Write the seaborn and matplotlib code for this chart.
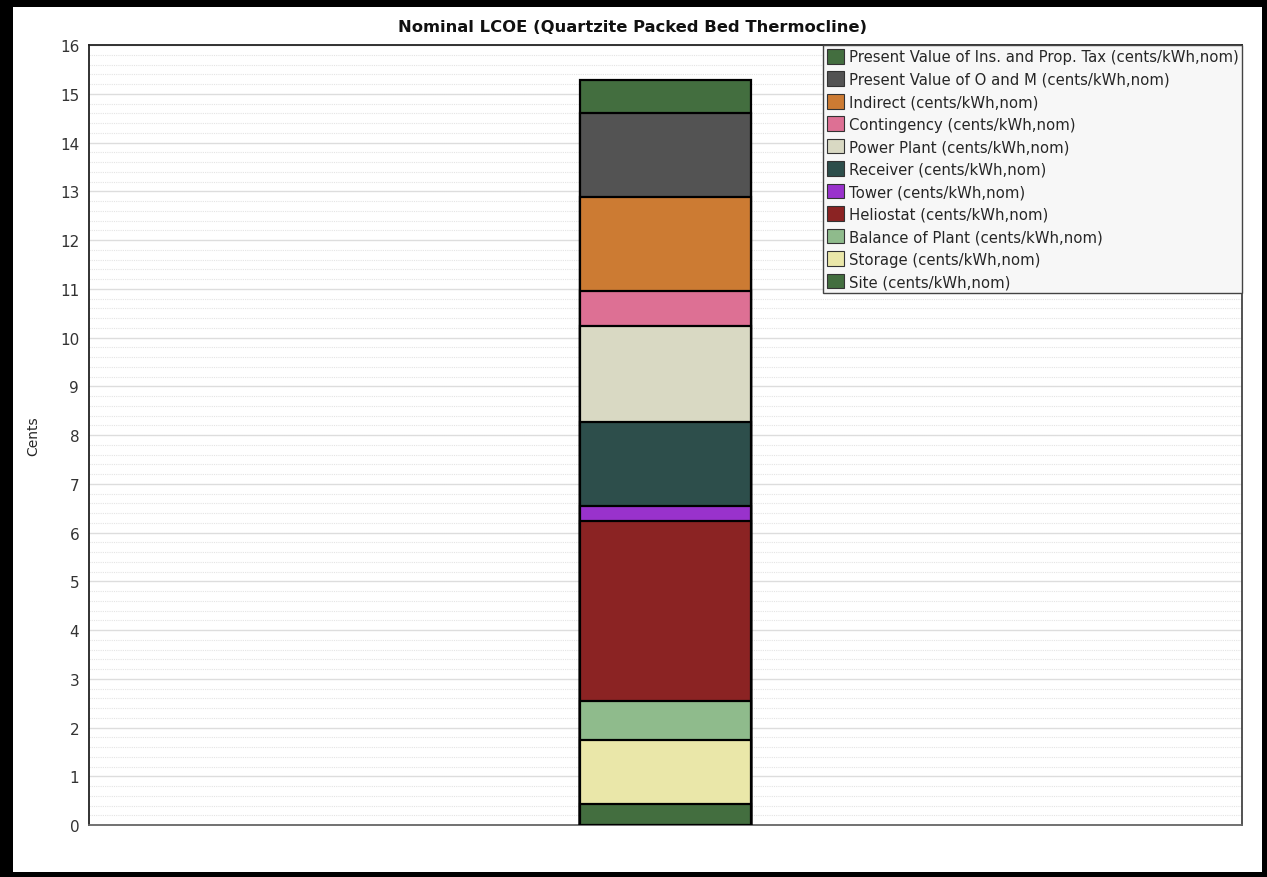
import numpy as np
import pandas as pd
import matplotlib.pyplot as plt
import seaborn as sns
from matplotlib.patches import Rectangle
from matplotlib.ticker import MultipleLocator

# segment values, bottom to top (cents/kWh, nominal)
categories = [
    "Site",
    "Storage",
    "Balance of Plant",
    "Heliostat",
    "Tower",
    "Receiver",
    "Power Plant",
    "Contingency",
    "Indirect",
    "Present Value of O and M",
    "Present Value of Ins. and Prop. Tax",
]
values = [0.43, 1.31, 0.81, 3.69, 0.30, 1.73, 1.96, 0.72, 1.94, 1.71, 0.68]
colors = [
    "#436e3f",
    "#eae7a9",
    "#8fbb8c",
    "#8b2323",
    "#9932cc",
    "#2d4e4b",
    "#d9d9c3",
    "#dd7094",
    "#cc7b33",
    "#535353",
    "#436e3f",
]

sns.set_style("white")
plt.rcParams["font.family"] = ["DejaVu Sans"]

df = pd.DataFrame({"part": categories, "value": values, "color": colors})
df["top"] = df["value"].cumsum()
df["x"] = ""

fig = plt.figure(figsize=(12.67, 8.78), dpi=100)
ax = fig.add_axes([0.0702, 0.0592, 0.9101, 0.8884])

# draw tallest cumulative bar first, then each lower one on top of it
for i in range(len(df) - 1, -1, -1):
    row = df.iloc[[i]]
    sns.barplot(data=row, x="x", y="top", color=row["color"].iloc[0],
                width=0.148, edgecolor="black", linewidth=1.6,
                saturation=1, ax=ax, zorder=3)

ax.set_xlim(-0.5, 0.5)
ax.set_ylim(0, 16)
ax.yaxis.set_major_locator(MultipleLocator(1))
ax.yaxis.set_minor_locator(MultipleLocator(0.2))
ax.grid(which="major", axis="y", color="#dddddd", linewidth=1.0, zorder=0)
ax.grid(which="minor", axis="y", color="#e4e4e4", linewidth=0.8,
        linestyle=(0, (1, 1)), zorder=0)
ax.set_axisbelow(True)
ax.set_xticks([])
ax.set_xlabel("")
ax.set_ylabel("Cents", fontsize=10, labelpad=14)
ax.tick_params(axis="y", which="major", direction="inout", length=7,
               width=1, labelsize=11, colors="#333333")
ax.tick_params(axis="y", which="minor", direction="in", length=3, width=0.8)
for side, c in [("left", "#222222"), ("bottom", "#666666"),
                ("top", "#222222"), ("right", "#444444")]:
    ax.spines[side].set_visible(True)
    ax.spines[side].set_color(c)
    ax.spines[side].set_linewidth(1.3)

fig.text(632 / 1267, 1 - 27 / 878,
         "Nominal LCOE (Quartzite Packed Bed Thermocline)",
         fontsize=11.75, fontweight="bold", ha="center", va="center",
         color="#111111")

# legend, top of stack first
handles = []
for col in colors[::-1]:
    handles.append(Rectangle((0, 0), 1, 1, facecolor=col,
                             edgecolor="#333333", linewidth=0.8))
labels = [p + " (cents/kWh,nom)" for p in categories[::-1]]
leg = ax.legend(handles, labels, loc="upper right", bbox_to_anchor=(1.0, 1.0),
                fontsize=10.75, frameon=True, fancybox=False, borderpad=0.25,
                labelspacing=0.47, handlelength=1.15, handleheight=1.15,
                handletextpad=0.3, borderaxespad=0.0)
leg.get_frame().set_facecolor("#f7f7f7")
leg.get_frame().set_edgecolor("#444444")
leg.get_frame().set_linewidth(1.0)
leg.get_frame().set_alpha(1)

# outer black frame
W, H = 1267, 878
for (x0, y0, w, h) in [(0, 0, 13, H), (0, H - 8, W, 8),
                       (W - 5, 0, 5, H), (0, 0, W, 5)]:
    fig.add_artist(Rectangle((x0 / W, y0 / H), w / W, h / H,
                             transform=fig.transFigure, facecolor="black",
                             edgecolor="none"))

fig.savefig("out.png", dpi=100)
